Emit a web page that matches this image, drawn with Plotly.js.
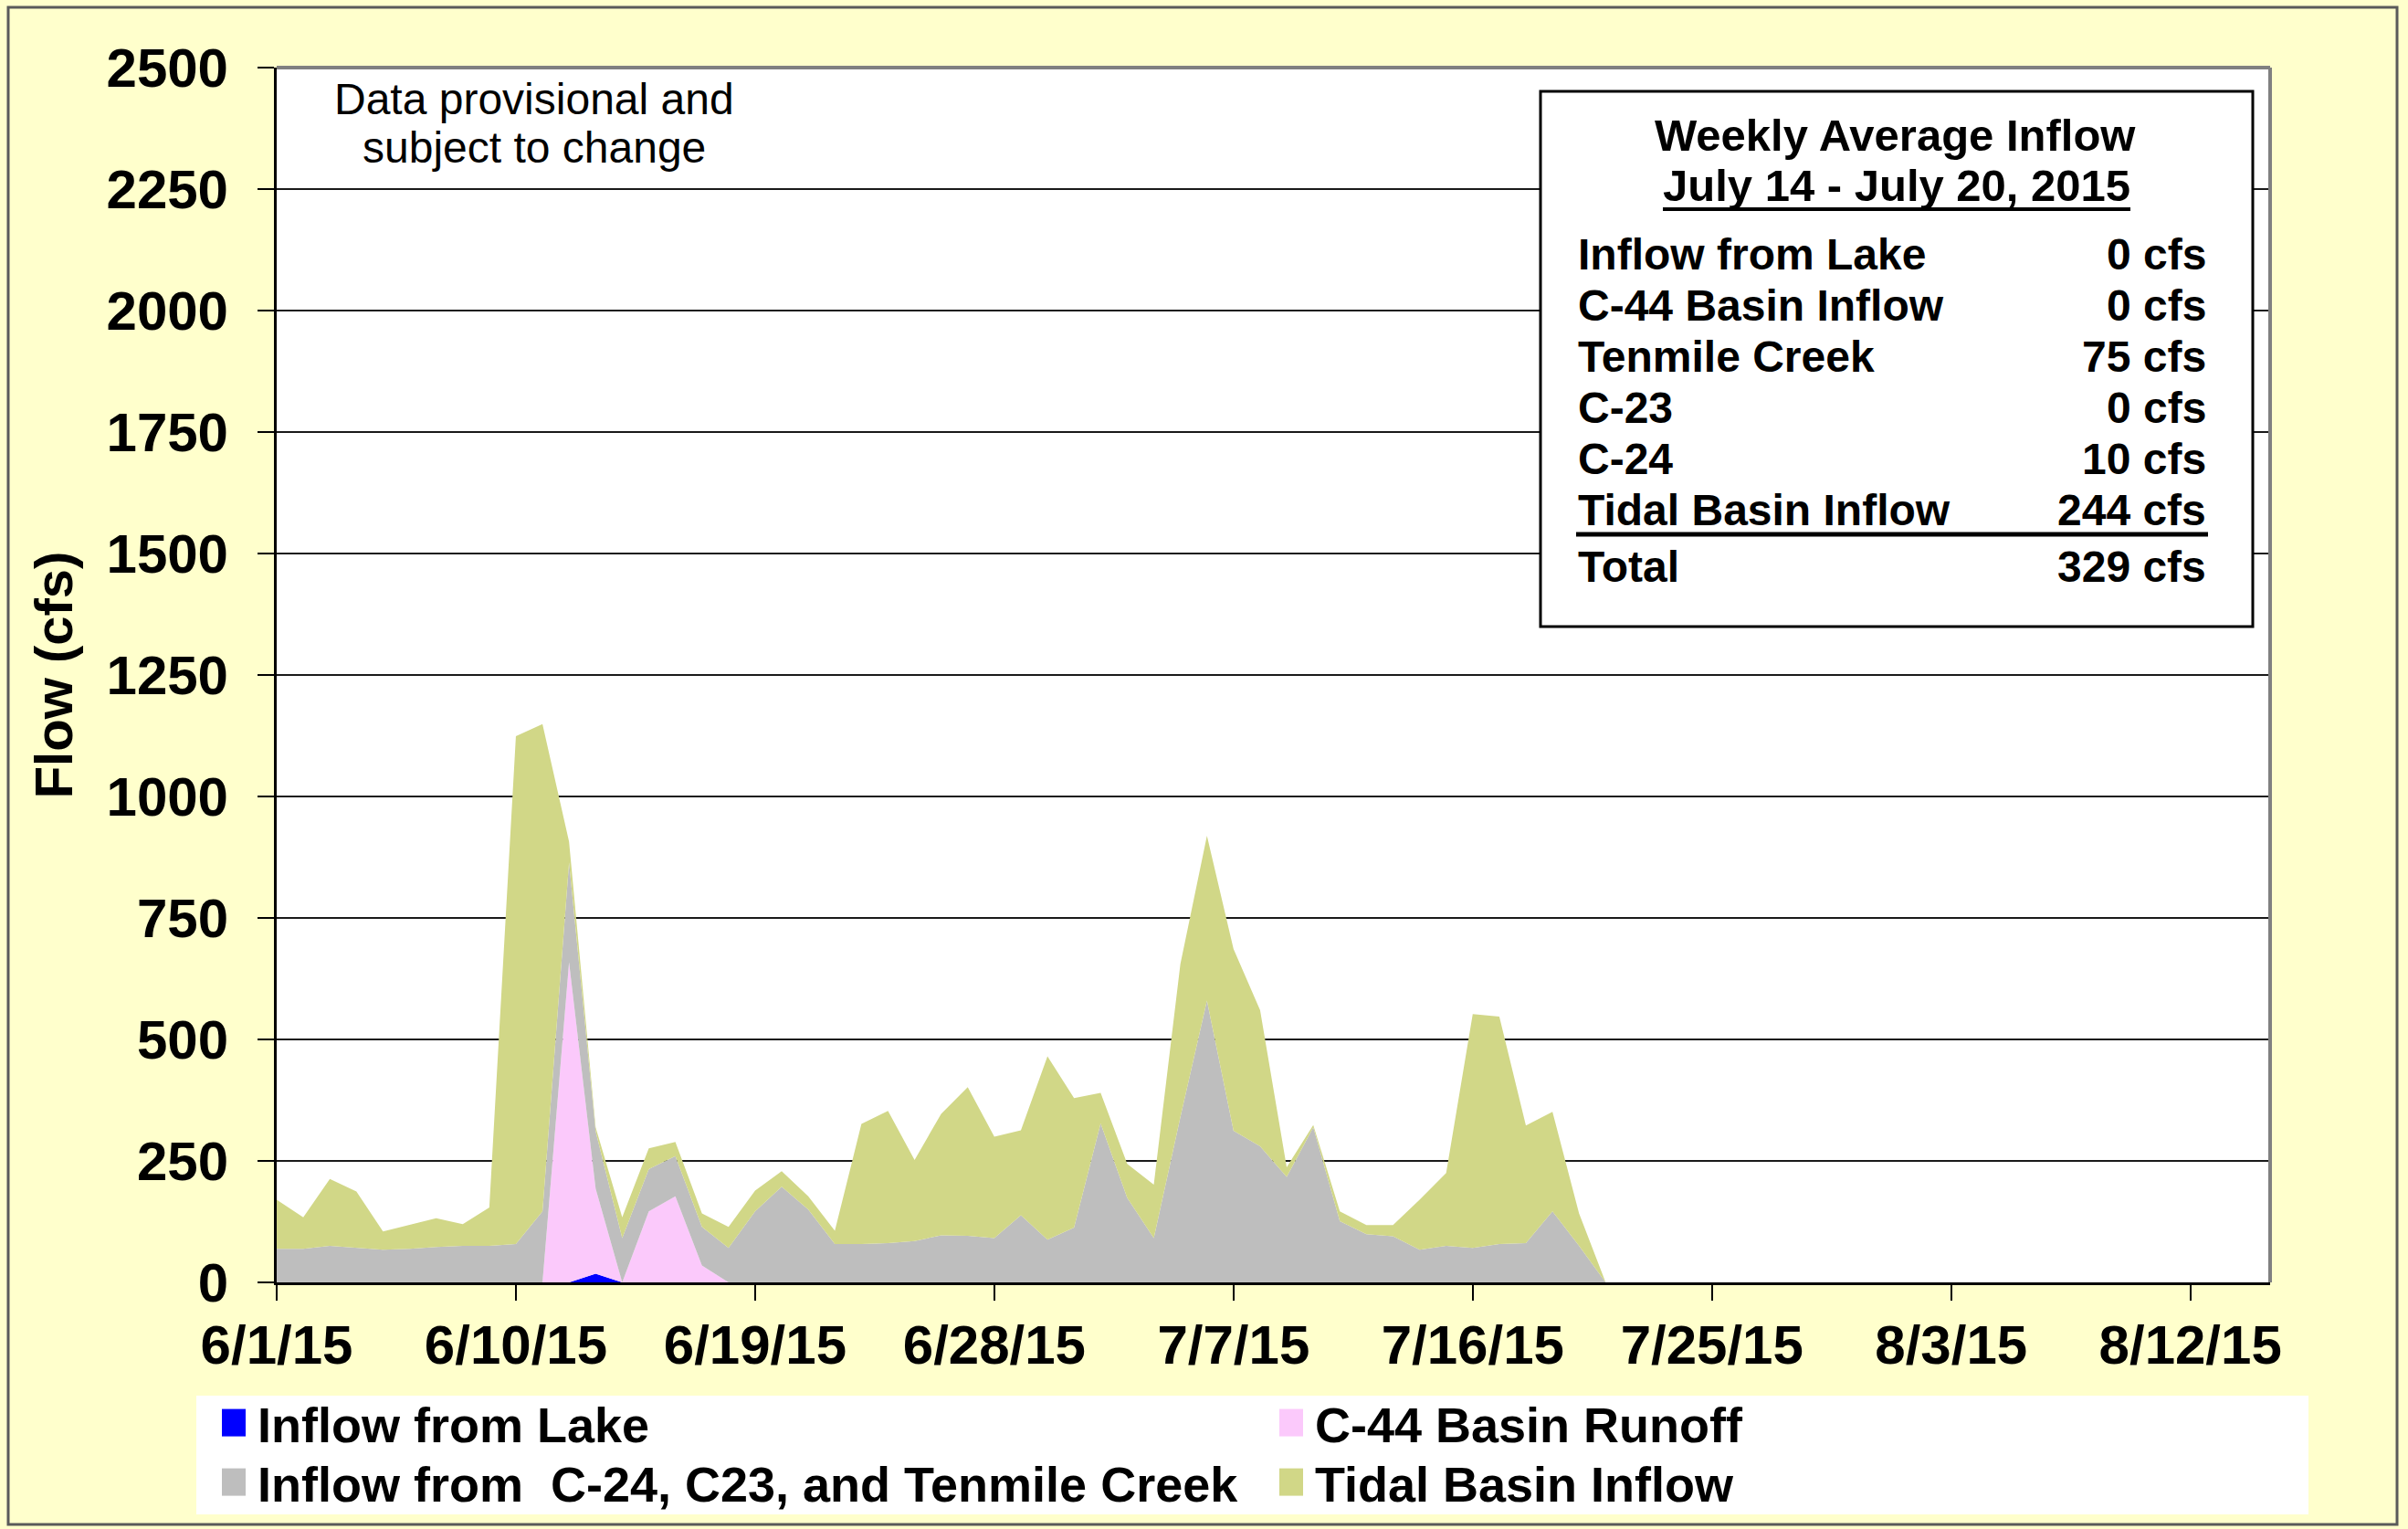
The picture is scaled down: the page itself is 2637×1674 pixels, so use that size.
<!DOCTYPE html>
<html>
<head>
<meta charset="utf-8">
<script src="https://cdn.plot.ly/plotly-3.0.1.min.js"></script>
<style>
  html, body { margin: 0; padding: 0; background: #FFFFCC; }
  #chart { width: 2637px; height: 1674px; }
</style>
</head>
<body>
<div id="chart"></div>
<script>
// ---------------- DATA ----------------
const dates = [
  '2015-06-01','2015-06-02','2015-06-03','2015-06-04','2015-06-05','2015-06-06','2015-06-07','2015-06-08','2015-06-09','2015-06-10',
  '2015-06-11','2015-06-12','2015-06-13','2015-06-14','2015-06-15','2015-06-16','2015-06-17','2015-06-18','2015-06-19','2015-06-20',
  '2015-06-21','2015-06-22','2015-06-23','2015-06-24','2015-06-25','2015-06-26','2015-06-27','2015-06-28','2015-06-29','2015-06-30',
  '2015-07-01','2015-07-02','2015-07-03','2015-07-04','2015-07-05','2015-07-06','2015-07-07','2015-07-08','2015-07-09','2015-07-10',
  '2015-07-11','2015-07-12','2015-07-13','2015-07-14','2015-07-15','2015-07-16','2015-07-17','2015-07-18','2015-07-19','2015-07-20',
  '2015-07-21'
];

const inflowFromLake = [
  0,0,0,0,0,0,0,0,0,0,
  0,0,18,0,0,0,0,0,0,0,
  0,0,0,0,0,0,0,0,0,0,
  0,0,0,0,0,0,0,0,0,0,
  0,0,0,0,0,0,0,0,0,0,
  0
];

const c44BasinRunoff = [
  0,0,0,0,0,0,0,0,0,0,
  0,659,175,0,146,177,35,0,0,0,
  0,0,0,0,0,0,0,0,0,0,
  0,0,0,0,0,0,0,0,0,0,
  0,0,0,0,0,0,0,0,0,0,
  0
];

const c24c23Tenmile = [
  69,69,75,71,67,69,73,75,75,79,
  146,205,118,91,87,83,79,71,146,197,
  150,79,79,81,85,97,96,91,138,88,
  113,327,174,91,340,580,312,280,217,319,
  126,99,95,67,75,71,79,81,146,75,
  0
];

const tidalBasinInflow = [
  101,65,138,116,38,49,59,45,79,1045,
  1003,43,8,43,43,29,28,43,43,32,
  27,27,247,272,167,250,306,209,175,377,
  266,63,70,110,315,339,374,280,20,5,
  20,19,23,103,150,481,468,242,205,67,
  0
];

const seriesNames = [
  'Inflow from Lake',
  'C-44 Basin Runoff',
  'Inflow from\u00a0 C-24, C23, and Tenmile Creek',
  'Tidal Basin Inflow'
];

const summaryTitle = 'Weekly Average Inflow';
const summaryPeriod = 'July 14 - July 20, 2015';
const summaryLabels = ['Inflow from Lake','C-44 Basin Inflow','Tenmile Creek','C-23','C-24','Tidal Basin Inflow','Total'];
const summaryValues = ['0 cfs','0 cfs','75 cfs','0 cfs','10 cfs','244 cfs','329 cfs'];

const noteLines = ['Data provisional and', 'subject to change'];
const yTitle = 'Flow (cfs)';

// ---------------- LAYOUT HELPERS ----------------
const FIG_W = 2637, FIG_H = 1674;
const PL = 303, PR = 2486, PT = 74, PB = 1404;
const PW = PR - PL, PH = PB - PT;
const px = x => (x - PL) / PW;
const py = y => (PB - y) / PH;

const FONT = 'Liberation Sans, Arial, sans-serif';
const colors = ['#0000FF', '#FBC9FB', '#BEBEBE', '#D1D787'];
const series = [inflowFromLake, c44BasinRunoff, c24c23Tenmile, tidalBasinInflow];

const traces = series.map((vals, i) => ({
  type: 'scatter',
  mode: 'lines',
  x: dates,
  y: vals,
  name: seriesNames[i],
  stackgroup: 'one',
  legend: i < 2 ? 'legend' : 'legend2',
  line: { width: 0, color: colors[i] },
  fillcolor: colors[i],
  hoverinfo: 'skip'
}));

const shapes = [
  // outer frame
  { type: 'rect', xref: 'paper', yref: 'paper', x0: px(9), x1: px(2625), y0: py(1669), y1: py(8),
    line: { color: '#5a5a5a', width: 3 }, fillcolor: 'rgba(0,0,0,0)', layer: 'below' },
  // legend background
  { type: 'rect', xref: 'paper', yref: 'paper', x0: px(215), x1: px(2528), y0: py(1658), y1: py(1528),
    line: { width: 0 }, fillcolor: '#FFFFFF', layer: 'below' },
  // plot top & right border (gray)
  { type: 'line', xref: 'paper', yref: 'paper', x0: 0, x1: 1, y0: 1, y1: 1, line: { color: '#808080', width: 4 }, layer: 'above' },
  { type: 'line', xref: 'paper', yref: 'paper', x0: 1, x1: 1, y0: 0, y1: 1, line: { color: '#808080', width: 4 }, layer: 'above' },
  // summary box
  { type: 'rect', xref: 'paper', yref: 'paper', x0: px(1687), x1: px(2467), y0: py(686), y1: py(100),
    line: { color: '#000000', width: 3 }, fillcolor: '#FFFFFF', layer: 'above' },
  // underline of period
  { type: 'line', xref: 'paper', yref: 'paper', x0: px(1821), x1: px(2333), y0: py(229), y1: py(229),
    line: { color: '#000000', width: 4 }, layer: 'above' },
  // rule above total
  { type: 'line', xref: 'paper', yref: 'paper', x0: px(1726), x1: px(2418), y0: py(585), y1: py(585),
    line: { color: '#000000', width: 5 }, layer: 'above' }
];

const annotations = [];
noteLines.forEach((t, i) => {
  annotations.push({ xref: 'paper', yref: 'paper', x: px(585), y: py(i === 0 ? 108 : 162),
    xanchor: 'center', yanchor: 'middle', showarrow: false, text: t,
    font: { family: FONT, size: 48, color: '#000000' } });
});
annotations.push({ xref: 'paper', yref: 'paper', x: px(2075), y: py(148), xanchor: 'center', yanchor: 'middle',
  showarrow: false, text: summaryTitle, font: { family: FONT, size: 49, color: '#000', weight: 'bold' } });
annotations.push({ xref: 'paper', yref: 'paper', x: px(2077), y: py(203), xanchor: 'center', yanchor: 'middle',
  showarrow: false, text: summaryPeriod, font: { family: FONT, size: 49, color: '#000', weight: 'bold' } });
summaryLabels.forEach((lab, i) => {
  const yy = i < 6 ? 278 + 56 * i : 620;
  annotations.push({ xref: 'paper', yref: 'paper', x: px(1726), y: py(yy), xanchor: 'left', yanchor: 'middle',
    showarrow: false, text: lab, font: { family: FONT, size: 48, color: '#000', weight: 'bold' } });
  annotations.push({ xref: 'paper', yref: 'paper', x: px(2418), y: py(yy), xanchor: 'right', yanchor: 'middle',
    showarrow: false, text: summaryValues[i], font: { family: FONT, size: 48, color: '#000', weight: 'bold' } });
});

const legendBase = {
  orientation: 'h',
  x: px(242), xanchor: 'left', yanchor: 'top',
  bgcolor: 'rgba(0,0,0,0)', borderwidth: 0,
  font: { family: FONT, size: 54, color: '#000', weight: 'bold' },
  entrywidth: 1113, entrywidthmode: 'pixels',
  traceorder: 'normal', itemwidth: 30
};

const layout = {
  width: FIG_W, height: FIG_H,
  margin: { l: PL, r: FIG_W - PR, t: PT, b: FIG_H - PB, pad: 0, autoexpand: false },
  paper_bgcolor: '#FFFFCC',
  plot_bgcolor: '#FFFFFF',
  font: { family: FONT, color: '#000000' },
  showlegend: true,
  legend: Object.assign({}, legendBase, { y: py(1516) }),
  legend2: Object.assign({}, legendBase, { y: py(1581) }),
  xaxis: {
    type: 'date',
    range: ['2015-06-01', '2015-08-15'],
    tick0: '2015-06-01',
    dtick: 9 * 86400000,
    tickformat: '%-m/%-d/%y',
    ticks: 'outside', ticklen: 17, tickwidth: 2, tickcolor: '#000',
    showline: true, linecolor: '#000', linewidth: 3,
    showgrid: false, zeroline: false,
    tickfont: { family: FONT, size: 60, color: '#000', weight: 'bold' },
    ticklabelstandoff: -3
  },
  yaxis: {
    range: [0, 2500], tick0: 0, dtick: 250,
    showgrid: true, gridcolor: '#1a1a1a', gridwidth: 2,
    ticks: 'outside', ticklen: 18, tickwidth: 2, tickcolor: '#000',
    showline: true, linecolor: '#000', linewidth: 3,
    zeroline: false,
    tickfont: { family: FONT, size: 60, color: '#000', weight: 'bold' },
    ticklabelstandoff: 20,
    title: { text: yTitle, font: { family: FONT, size: 58, color: '#000', weight: 'bold' }, standoff: 19 }
  },
  shapes: shapes,
  annotations: annotations
};

Plotly.newPlot('chart', traces, layout, { displayModeBar: false, staticPlot: true }).then(gd => {
  // square colour swatches in the legends, like the original chart
  gd.querySelectorAll('.legendfill path').forEach(p => p.setAttribute('d', 'M1,-15h26v30h-26z'));
  gd.querySelectorAll('.legendlines path').forEach(p => { p.style.display = 'none'; });
});
</script>
</body>
</html>
